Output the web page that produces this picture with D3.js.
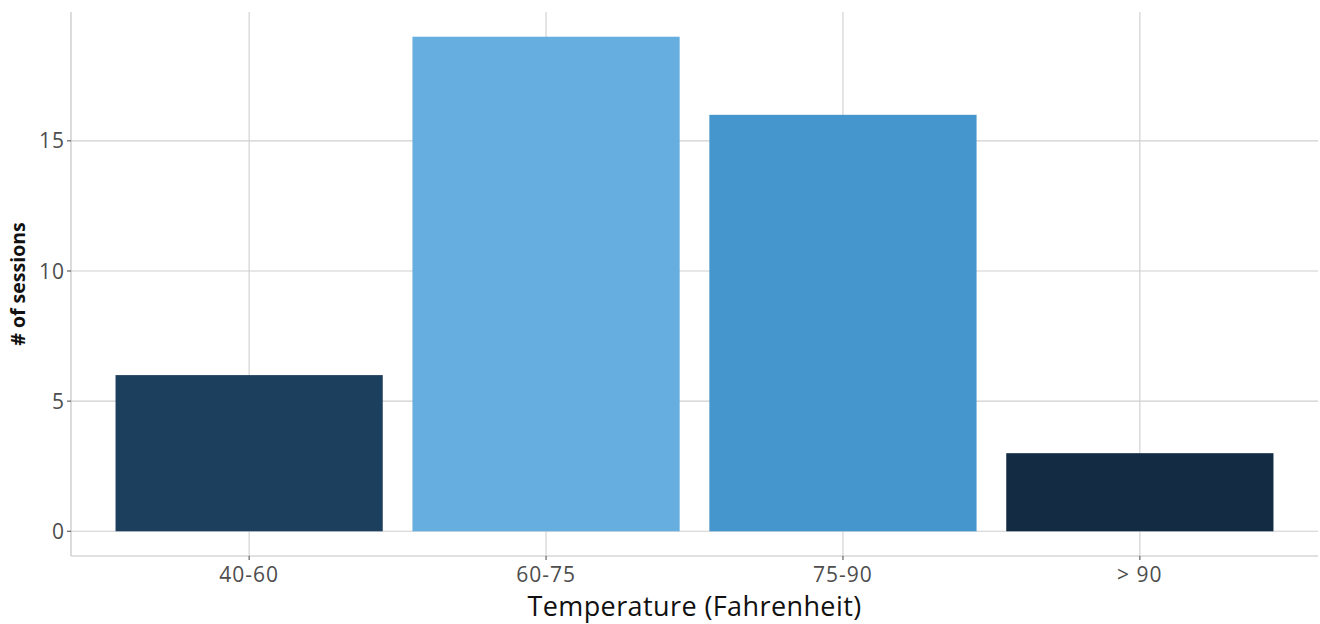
<!DOCTYPE html>
<html><head><meta charset="utf-8">
<script src="https://cdn.jsdelivr.net/npm/d3@7"></script>
<style>body{margin:0;background:#fff}</style>
</head><body>
<svg id="c" width="1320" height="624"></svg>
<script>
const categories = ["40-60", "60-75", "75-90", "> 90"];
const sessions = [6, 19, 16, 3];
const barColors = ["#1d3f5e", "#66aedf", "#4696ce", "#132b43"];
const yTicks = [0, 5, 10, 15];

const svg = d3.select("#c");
const L = 71, R = 1318, T = 12, B = 556;
const font = "'Open Sans', Lato, sans-serif";

// ggplot-like discrete scale: expand 0.6 each side, bar width 0.9
const step = (R - L) / (categories.length - 1 + 1.2);
const x = d3.scalePoint().domain(categories).range([L + 0.6 * step, R - 0.6 * step]).padding(0);
const bw = step * 0.9;
const ymax = d3.max(sessions);
const y = d3.scaleLinear().domain([-0.05 * ymax, ymax * 1.05]).range([B, T]);

const grid = "#cfcfcf";
svg.append("g").selectAll("line").data(yTicks).join("line")
  .attr("x1", L).attr("x2", R).attr("y1", d => y(d)).attr("y2", d => y(d))
  .attr("stroke", grid).attr("stroke-width", 1.1);
svg.append("g").selectAll("line").data(categories).join("line")
  .attr("x1", d => x(d)).attr("x2", d => x(d)).attr("y1", T).attr("y2", B)
  .attr("stroke", grid).attr("stroke-width", 1.1);

svg.append("g").selectAll("rect").data(categories).join("rect")
  .attr("x", d => x(d) - bw / 2).attr("width", bw)
  .attr("y", (d, i) => y(sessions[i])).attr("height", (d, i) => y(0) - y(sessions[i]))
  .attr("fill", (d, i) => barColors[i]);

svg.append("line").attr("x1", L).attr("x2", L).attr("y1", T).attr("y2", B).attr("stroke", "#c4c4c4").attr("stroke-width", 1.2);
svg.append("line").attr("x1", L).attr("x2", R).attr("y1", B).attr("y2", B).attr("stroke", "#c4c4c4").attr("stroke-width", 1.2);

const yg = svg.append("g");
yg.selectAll("line").data(yTicks).join("line")
  .attr("x1", L - 4).attr("x2", L).attr("y1", d => y(d)).attr("y2", d => y(d))
  .attr("stroke", "#555").attr("stroke-width", 1.1);
yg.selectAll("text").data(yTicks).join("text")
  .attr("x", L - 6).attr("y", d => y(d)).attr("dy", "0.36em")
  .attr("text-anchor", "end").attr("fill", "#4d4d4d")
  .style("font-family", font).style("font-size", "21px").style("letter-spacing", "1px").text(d => d);

const xg = svg.append("g");
xg.selectAll("line").data(categories).join("line")
  .attr("x1", d => x(d)).attr("x2", d => x(d)).attr("y1", B).attr("y2", B + 4)
  .attr("stroke", "#555").attr("stroke-width", 1.1);
xg.selectAll("text").data(categories).join("text")
  .attr("x", d => x(d)).attr("y", 582)
  .attr("text-anchor", "middle").attr("fill", "#4d4d4d")
  .style("font-family", font).style("font-size", "21px").style("letter-spacing", "1px").text(d => d);

svg.append("text").attr("x", (L + R) / 2).attr("y", 616).attr("text-anchor", "middle")
  .attr("fill", "#111").style("font-family", font).style("font-size", "27px")
  .style("letter-spacing", "0.4px")
  .text("Temperature (Fahrenheit)");
svg.append("text").attr("transform", `translate(25,${(T + B) / 2}) rotate(-90)`)
  .attr("text-anchor", "middle").attr("fill", "#111").style("font-family", font)
  .style("font-size", "19.5px").style("font-weight", "bold").text("# of sessions");
</script>
</body></html>
